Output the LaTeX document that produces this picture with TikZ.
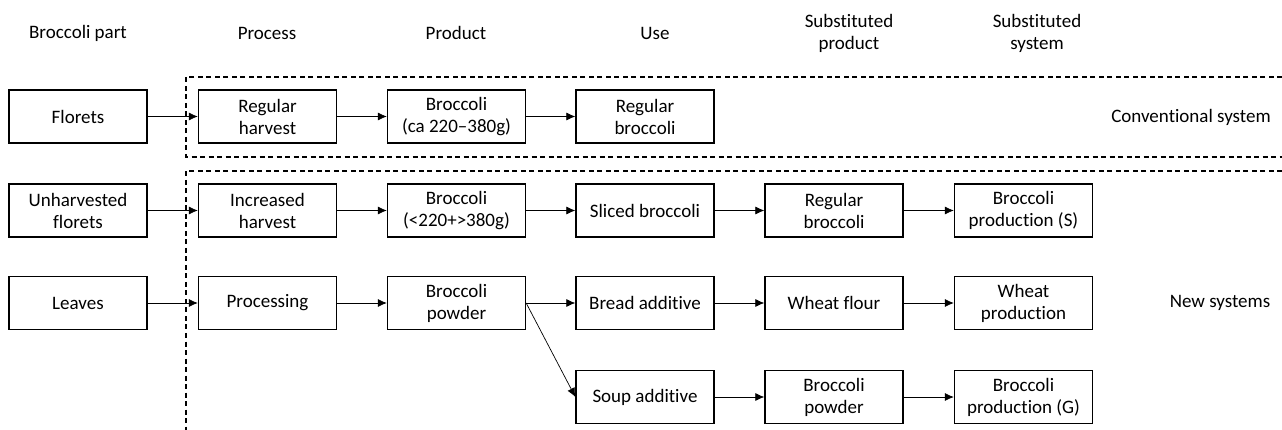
\documentclass[tikz,border=0pt]{standalone}
\usepackage{fontspec}
\setmainfont[Ligatures=NoCommon]{Carlito}
\usetikzlibrary{positioning,arrows.meta}

\begin{document}
\begin{tikzpicture}
        [>={Latex[length=9pt,width=8pt]},x=1pt,y=-1pt,
         box/.style={draw,line width=1.3pt,minimum width=138pt,minimum height=53pt,inner sep=2pt,align=center,font=\fontsize{19}{22}\selectfont},
         head/.style={align=center,font=\fontsize{19}{22}\selectfont},
         flow/.style={->,line width=0.7pt},
         frame/.style={line width=1.2pt,dash pattern=on 5pt off 3.5pt}]

        \useasboundingbox (0,0) rectangle (1282,430);

        % column headers
        \node[head] (hpart) at (78,33) {Broccoli part};
        \node[head] (hproc) at (267,33) {Process};
        \node[head] (hprod) at (456,33) {Product};
        \node[head] (huse) at (655,33) {Use};
        \node[head] (hsprod) at (849,33) {Substituted\\product};
        \node[head] (hssys) at (1037,33) {Substituted\\system};

        % dashed frames
        \draw[frame] (1282,77) -- (186,77) -- (186,157) -- (1282,157);
        \draw[frame] (1282,171) -- (186,171) -- (186,430);

        \node[head] (conv) at (1191,117) {Conventional system};
        \node[head] (new) at (1220,303) {New systems};

        % conventional system
        \node[box] (florets) at (78,116.5) {Florets};
        \node[box] (regharv) at (267.5,116.5) {Regular\\harvest};
        \node[box] (brocA) at (456.5,116.5) {Broccoli\\(ca 220–380g)};
        \node[box] (regbrocA) at (645,116.5) {Regular\\broccoli};

        \draw[flow] (florets) -- (regharv);
        \draw[flow] (regharv) -- (brocA);
        \draw[flow] (brocA) -- (regbrocA);

        % unharvested florets
        \node[box] (unharv) at (78,210.5) {Unharvested\\florets};
        \node[box] (incharv) at (267.5,210.5) {Increased\\harvest};
        \node[box] (brocB) at (456.5,210.5) {Broccoli\\(<220+>380g)};
        \node[box] (sliced) at (645,210.5) {Sliced broccoli};
        \node[box] (regbrocB) at (834,210.5) {Regular\\broccoli};
        \node[box] (prodS) at (1023.5,210.5) {Broccoli\\production (S)};

        \draw[flow] (unharv) -- (incharv);
        \draw[flow] (incharv) -- (brocB);
        \draw[flow] (brocB) -- (sliced);
        \draw[flow] (sliced) -- (regbrocB);
        \draw[flow] (regbrocB) -- (prodS);

        % leaves
        \node[box] (leaves) at (78,303) {Leaves};
        \node[box] (processing) at (267.5,303) {Processing};
        \node[box] (powder) at (456.5,303) {Broccoli\\powder};
        \node[box] (bread) at (645,303) {Bread additive};
        \node[box] (flour) at (834,303) {Wheat flour};
        \node[box] (wheat) at (1023.5,303) {Wheat\\production};

        \node[box] (soup) at (645,397) {Soup additive};
        \node[box] (powderB) at (834,397) {Broccoli\\powder};
        \node[box] (prodG) at (1023.5,397) {Broccoli\\production (G)};

        \draw[flow] (leaves) -- (processing);
        \draw[flow] (processing) -- (powder);
        \draw[flow] (powder) -- (bread);
        \draw[flow] (bread) -- (flour);
        \draw[flow] (flour) -- (wheat);
        \draw[flow] (powder.east) -- (soup.west);
        \draw[flow] (soup) -- (powderB);
        \draw[flow] (powderB) -- (prodG);

    \end{tikzpicture}
\end{document}
